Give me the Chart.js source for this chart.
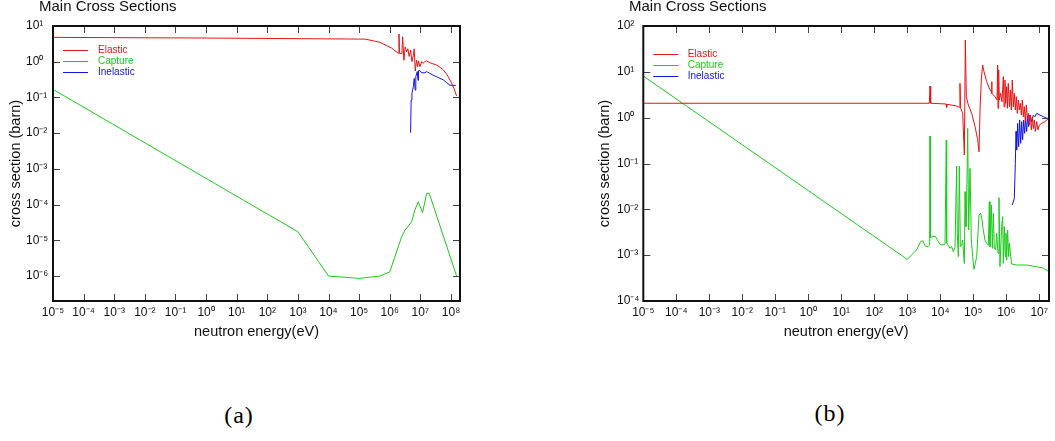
<!DOCTYPE html>
<html>
<head>
<meta charset="utf-8">
<script src="https://cdn.jsdelivr.net/npm/chart.js@4.4.0/dist/chart.umd.min.js"></script>
<style>
  body { margin: 0; background: #fff; width: 1055px; height: 441px; position: relative; overflow: hidden; }
  .box { position: absolute; top: 0; }
  .cap { position: absolute; font-family: "Liberation Serif", "DejaVu Serif", serif; font-size: 24px; color: #000; transform: translate(-50%, -50%); letter-spacing: 1px; }
</style>
</head>
<body>
<div class="box" style="left:0"><canvas id="chartA" width="530" height="360"></canvas></div>
<div class="box" style="left:527px"><canvas id="chartB" width="528" height="360"></canvas></div>
<div class="cap" style="left:239px;top:415px">(a)</div>
<div class="cap" style="left:830px;top:413px">(b)</div>
<script>
// ---- chart (a) ----
var elasticE_a = [1e-5, 1, 1e5, 1.55e5, 4.8e5, 1.15e6, 1.9e6, 2.0e6, 2.1e6, 2.5e6, 2.63e6, 2.9e6, 3.2e6, 3.55e6, 3.9e6, 4.3e6, 4.8e6, 5.3e6, 5.9e6, 6.3e6, 6.8e6, 7.5e6, 8.1e6, 8.7e6, 9.7e6, 1.1e7, 1.24e7, 1.41e7, 1.6e7, 2.05e7, 2.6e7, 3.4e7, 4.4e7, 5.6e7, 7.2e7, 8.15e7, 1.05e8, 1.25e8, 1.52e8];
var elasticXS_a = [4.8, 4.6, 4.3, 4.3, 3.5, 2.4, 1.72, 5.97, 1.72, 1.7, 5.0, 1.1, 2.6, 1.9, 2.3, 1.4, 2.1, 1.0, 1.5, 2.3, 0.55, 1.12, 0.73, 1.05, 0.73, 1.0, 0.9, 1.02, 1.05, 0.94, 0.87, 0.81, 0.70, 0.59, 0.45, 0.38, 0.25, 0.18, 0.11];

var captureE_a = [1e-5, 1e3, 1e4, 1e5, 4.8e5, 1e6, 2.4e6, 3.1e6, 5.2e6, 6.6e6, 8.5e6, 1.18e7, 1.6e7, 1.95e7, 1.52e8];
var captureXS_a = [0.168, 1.73e-5, 1.0e-6, 8.6e-7, 1.0e-6, 1.3e-6, 1.2e-5, 1.9e-5, 3.3e-5, 7.0e-5, 1.2e-4, 6.0e-5, 2.06e-4, 2.06e-4, 1.0e-6];

var inelasticE_a = [4.8e6, 5.0e6, 5.3e6, 5.9e6, 6.3e6, 6.8e6, 7.1e6, 7.9e6, 8.4e6, 8.7e6, 9.7e6, 1.1e7, 1.41e7, 1.6e7, 2.05e7, 2.6e7, 3.4e7, 4.4e7, 5.6e7, 7.2e7, 9.2e7, 1.1e8, 1.45e8];
var inelasticXS_a = [0.0103, 0.085, 0.13, 0.2, 0.34, 0.16, 0.38, 0.53, 0.3, 0.56, 0.56, 0.49, 0.49, 0.53, 0.47, 0.42, 0.38, 0.34, 0.31, 0.26, 0.22, 0.218, 0.218];

var xTicks_a = [1e-5, 1e-4, 1e-3, 1e-2, 1e-1, 1, 1e1, 1e2, 1e3, 1e4, 1e5, 1e6, 1e7, 1e8];
var yTicks_a = [1e-6, 1e-5, 1e-4, 1e-3, 1e-2, 1e-1, 1, 1e1];

// ---- chart (b) ----
var elasticE_b = [1e-5, 4.66e3, 4.88e3, 5.11e3, 1.49e4, 1.56e4, 1.63e4, 3.13e4, 3.78e4, 3.95e4, 4.15e4, 4.77e4, 5.36e4, 5.74e4, 6.15e4, 7.08e4, 8.93e4, 1.13e5, 1.36e5, 1.49e5, 1.6e5, 1.75e5, 1.92e5, 2.11e5, 2.54e5, 3.21e5, 3.52e5, 3.61e5, 3.69e5, 4.55e5, 5.23e5, 5.48e5, 5.61e5, 5.87e5, 6.15e5, 6.76e5, 7.42e5, 8.13e5, 8.53e5, 9.14e5, 9.57e5, 1.03e6, 1.08e6, 1.15e6, 1.24e6, 1.33e6, 1.42e6, 1.52e6, 1.63e6, 1.75e6, 1.88e6, 2.01e6, 2.16e6, 2.32e6, 2.48e6, 2.67e6, 2.86e6, 3.06e6, 3.29e6, 3.52e6, 3.78e6, 4.05e6, 4.34e6, 4.66e6, 4.99e6, 5.36e6, 5.74e6, 6.15e6, 6.61e6, 7.08e6, 7.59e6, 8.33e6, 9.14e6, 1.0e7, 1.18e7, 1.49e7, 1.92e7];
var elasticXS_b = [2.06, 2.06, 4.91, 2.06, 1.99, 1.68, 1.95, 1.80, 1.68, 5.61, 1.60, 1.24, 0.153, 49.5, 2.87, 1.89, 1.24, 0.64, 0.33, 0.18, 1.47, 6.64, 14.1, 10.1, 6.10, 4.02, 3.69, 6.10, 3.40, 2.87, 2.43, 14.1, 1.60, 11.0, 2.43, 3.40, 2.23, 7.85, 1.74, 6.64, 2.06, 4.74, 1.60, 5.61, 1.74, 4.02, 1.47, 6.64, 1.74, 3.40, 1.47, 2.87, 1.24, 2.43, 1.47, 2.06, 1.14, 2.43, 1.05, 1.74, 0.82, 1.89, 0.97, 1.24, 0.69, 1.14, 0.54, 1.05, 0.58, 0.89, 0.50, 0.82, 0.54, 0.69, 0.75, 0.82, 0.97];

var captureE_b = [1e-5, 1e3, 1.92e3, 2.54e3, 2.92e3, 3.52e3, 4.25e3, 4.77e3, 4.88e3, 4.99e3, 6.92e3, 8.73e3, 1.03e4, 1.39e4, 1.52e4, 1.56e4, 1.97e4, 2.21e4, 2.48e4, 2.79e4, 3.13e4, 3.28e4, 3.52e4, 3.78e4, 4.05e4, 4.45e4, 4.77e4, 5.35e4, 5.61e4, 6.01e4, 6.3e4, 6.76e4, 7.25e4, 7.95e4, 8.73e4, 9.58e4, 1.05e5, 1.15e5, 1.27e5, 1.39e5, 1.49e5, 1.67e5, 1.84e5, 2.01e5, 2.26e5, 2.54e5, 2.86e5, 3.06e5, 3.21e5, 3.52e5, 3.78e5, 4.05e5, 4.34e5, 4.76e5, 5.11e5, 5.61e5, 6.01e5, 6.44e5, 7.24e5, 7.76e5, 8.13e5, 8.73e5, 9.35e5, 9.8e5, 1.03e6, 1.1e6, 1.18e6, 1.24e6, 1.36e6, 1.46e6, 2.06e6, 4.14e6, 8.33e6, 1.33e7, 1.92e7];
var captureXS_b = [8.1, 8.1e-4, 0.0013, 0.00197, 0.00207, 0.00158, 0.00153, 0.00167, 0.398, 0.00245, 0.00262, 0.00197, 0.00167, 0.00172, 0.326, 0.00187, 0.00141, 0.00153, 0.00119, 0.00148, 0.088, 0.003, 0.00093, 0.088, 0.00153, 0.00167, 0.00214, 0.00066, 0.0243, 0.0042, 0.0135, 0.585, 0.00354, 0.0785, 0.00214, 0.00093, 0.00049, 0.00066, 0.00093, 0.003, 0.0075, 0.0082, 0.00585, 0.00354, 0.00214, 0.00181, 0.00167, 0.0147, 0.00153, 0.0124, 0.00141, 0.0082, 0.00141, 0.0013, 0.003, 0.0011, 0.018, 0.00056, 0.0042, 0.0069, 0.00066, 0.0042, 0.00093, 0.003, 0.00078, 0.00354, 0.00093, 0.00181, 0.00093, 0.00064, 0.00061, 0.00061, 0.00056, 0.00052, 0.00044];

var inelasticE_b = [1.52e6, 1.75e6, 1.88e6, 1.97e6, 2.06e6, 2.21e6, 2.37e6, 2.54e6, 2.73e6, 2.92e6, 3.13e6, 3.36e6, 3.6e6, 3.86e6, 4.14e6, 4.44e6, 4.76e6, 5.23e6, 5.87e6, 6.61e6, 7.41e6, 8.33e6, 1.05e7, 1.33e7, 1.67e7, 1.92e7];
var inelasticXS_b = [0.0124, 0.0174, 0.101, 0.50, 0.197, 0.75, 0.233, 0.89, 0.275, 0.82, 0.33, 0.89, 0.455, 0.97, 0.50, 1.05, 0.64, 1.14, 0.82, 1.14, 1.05, 1.24, 1.14, 1.05, 0.97, 0.97];

var xTicks_b = [1e-5, 1e-4, 1e-3, 1e-2, 1e-1, 1, 1e1, 1e2, 1e3, 1e4, 1e5, 1e6, 1e7];
var yTicks_b = [1e-4, 1e-3, 1e-2, 1e-1, 1, 1e1, 1e2];

var RED = "#e81414", GREEN = "#1ccc1c", BLUE = "#1414e8";
var FONT = '"Liberation Sans", Arial, sans-serif';

var sup = {'-': '\u207B', '0': '\u2070', '1': '\u00B9', '2': '\u00B2', '3': '\u00B3', '4': '\u2074',
           '5': '\u2075', '6': '\u2076', '7': '\u2077', '8': '\u2078', '9': '\u2079'};
function powLabel(v) {
  var e = String(Math.round(Math.log10(v)));
  return '10' + e.split('').map(function (c) { return sup[c]; }).join('');
}
function points(xs, ys) {
  return xs.map(function (x, i) { return {x: x, y: ys[i]}; });
}

// inward ticks on all four sides, frame, legend and heading
var framePlugin = {
  id: 'frame',
  afterDatasetsDraw: function (chart, args, opts) {
    var a = chart.chartArea, ctx = chart.ctx;
    var sx = chart.scales.x, sy = chart.scales.y;
    ctx.save();
    ctx.strokeStyle = '#444';
    ctx.lineWidth = 1;
    ctx.beginPath();
    sx.ticks.forEach(function (t) {
      var p = Math.round(sx.getPixelForValue(t.value)) + 0.5;
      ctx.moveTo(p, a.bottom); ctx.lineTo(p, a.bottom - 7);
      ctx.moveTo(p, a.top); ctx.lineTo(p, a.top + 7);
    });
    sy.ticks.forEach(function (t) {
      var p = Math.round(sy.getPixelForValue(t.value)) + 0.5;
      ctx.moveTo(a.left, p); ctx.lineTo(a.left + 7, p);
      ctx.moveTo(a.right, p); ctx.lineTo(a.right - 7, p);
    });
    ctx.stroke();
    ctx.strokeStyle = '#111';
    ctx.lineWidth = 2;
    ctx.strokeRect(a.left, a.top, a.right - a.left, a.bottom - a.top);

    // legend
    ctx.font = '10px ' + FONT;
    ctx.textBaseline = 'middle';
    chart.data.datasets.forEach(function (ds, i) {
      var y = Math.round(a.top + opts.legendY + i * opts.legendGap) + 0.5;
      ctx.strokeStyle = ds.borderColor;
      ctx.lineWidth = 1;
      ctx.beginPath();
      ctx.moveTo(a.left + 10, y); ctx.lineTo(a.left + 35, y);
      ctx.stroke();
      ctx.fillStyle = ds.borderColor;
      ctx.fillText(ds.label, a.left + opts.legendText, y);
    });

    // heading
    ctx.fillStyle = '#111';
    ctx.font = '15px ' + FONT;
    ctx.textBaseline = 'alphabetic';
    ctx.fillText(opts.title, opts.titleX, 11);
    ctx.restore();
  }
};

function makeChart(id, d, xTicks, yTicks, lim, pad, yWidth, yTitlePad, frameOpts) {
  return new Chart(id, {
    type: 'line',
    data: {
      datasets: [
        {label: 'Elastic', data: points(d[0], d[1]), borderColor: RED},
        {label: 'Capture', data: points(d[2], d[3]), borderColor: GREEN},
        {label: 'Inelastic', data: points(d[4], d[5]), borderColor: BLUE}
      ]
    },
    options: {
      responsive: false,
      animation: false,
      devicePixelRatio: 1,
      layout: {padding: pad},
      elements: {
        line: {borderWidth: 1, tension: 0, fill: false},
        point: {radius: 0, hoverRadius: 0}
      },
      plugins: {
        legend: {display: false},
        tooltip: {enabled: false},
        frame: frameOpts
      },
      scales: {
        x: {
          type: 'logarithmic',
          min: lim[0], max: lim[1],
          afterBuildTicks: function (s) { s.ticks = xTicks.map(function (v) { return {value: v}; }); },
          afterFit: function (s) { s.height = 59; },
          grid: {display: false, drawTicks: false},
          border: {display: false},
          ticks: {autoSkip: false, maxRotation: 0, minRotation: 0, padding: 4, color: '#111',
                  font: {family: FONT, size: 12}, callback: function (v) { return powLabel(v); }},
          title: {display: true, text: 'neutron energy(eV)', color: '#111',
                  font: {family: FONT, size: 14.5}, padding: {top: 0, bottom: 19}}
        },
        y: {
          type: 'logarithmic',
          min: lim[2], max: lim[3],
          afterBuildTicks: function (s) { s.ticks = yTicks.map(function (v) { return {value: v}; }); },
          afterFit: function (s) { s.width = yWidth; },
          grid: {display: false, drawTicks: false},
          border: {display: false},
          ticks: {autoSkip: false, crossAlign: 'far', padding: 0, color: '#111',
                  font: {family: FONT, size: 12}, callback: function (v) { return powLabel(v); }},
          title: {display: true, text: 'cross section (barn)', color: '#111',
                  font: {family: FONT, size: 14.5}, padding: {top: yTitlePad, bottom: 0}}
        }
      }
    },
    plugins: [framePlugin]
  });
}

makeChart('chartA',
  [elasticE_a, elasticXS_a, captureE_a, captureXS_a, inelasticE_a, inelasticXS_a],
  xTicks_a, yTicks_a, [1e-5, 1.97e8, 2e-7, 10],
  {left: 26, top: 26, right: 70, bottom: 0}, 27, -19.2,
  {title: 'Main Cross Sections', titleX: 39, legendY: 24, legendGap: 10.8, legendText: 45});

makeChart('chartB',
  [elasticE_b, elasticXS_b, captureE_b, captureXS_b, inelasticE_b, inelasticXS_b],
  xTicks_b, yTicks_b, [1e-5, 1.97e7, 1e-4, 100],
  {left: 90, top: 26, right: 6, bottom: 0}, 26.3, -20.7,
  {title: 'Main Cross Sections', titleX: 102, legendY: 28.3, legendGap: 11, legendText: 44.4});
</script>
</body>
</html>
